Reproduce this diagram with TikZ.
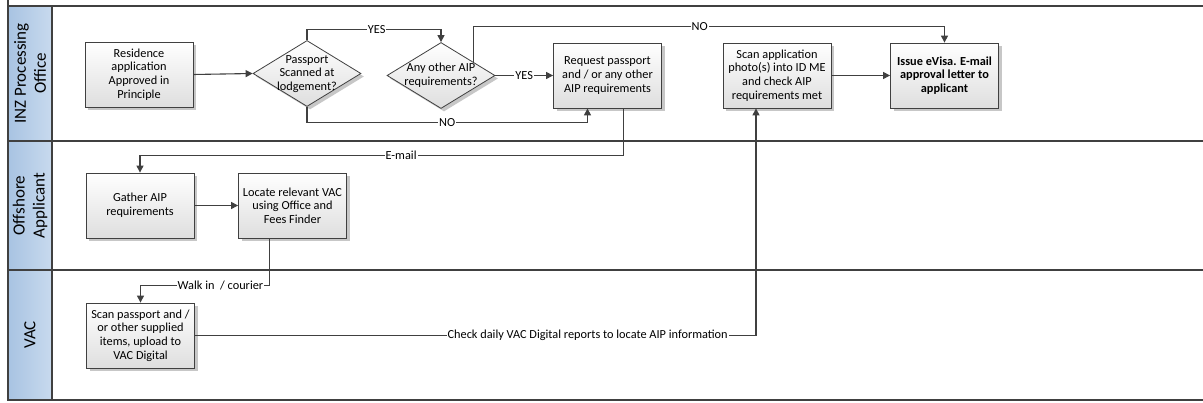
\documentclass[tikz,border=0pt]{standalone}
\usepackage{fontspec}
\setmainfont{Carlito}
\usetikzlibrary{shapes.geometric,arrows.meta,calc,shadows}
\definecolor{ln}{RGB}{64,64,64}
\definecolor{hdA}{RGB}{168,195,226}
\definecolor{hdB}{RGB}{200,218,238}
\definecolor{bxbot}{RGB}{222,222,222}
\tikzset{
  lane/.style={draw=ln, line width=1.4pt},
  hdr/.style={shading=axis, left color=hdA, right color=hdB, draw=ln, line width=1.4pt},
  hdtxt/.style={rotate=90, align=center, font=\fontsize{17}{20}\selectfont, text=black},
  procbox/.style={rectangle, draw=ln, line width=0.8pt, top color=white, bottom color=bxbot,
    minimum width=108pt, minimum height=65pt, align=center,
    inner sep=2pt, font=\fontsize{12.3}{13.6}\selectfont,
    general shadow={fill=black!22, shadow xshift=3pt, shadow yshift=-3pt}},
  decbox/.style={diamond, draw=ln, line width=0.8pt, top color=white, bottom color=bxbot,
    minimum width=108pt, minimum height=66pt, inner sep=0pt,
    general shadow={fill=black!22, shadow xshift=3pt, shadow yshift=-3pt}},
  dectxt/.style={align=center, font=\fontsize{12.3}{13.6}\selectfont},
  arr/.style={draw=ln, line width=1.1pt, -{Triangle[length=7pt,width=7pt]}},
  elab/.style={fill=white, inner sep=1pt, font=\fontsize{12.3}{14}\selectfont, text=black},
}
\begin{document}
\begin{tikzpicture}[x=1pt,y=-1pt]
\useasboundingbox (0,0) rectangle (1203,403);
% lanes
\fill[white] (8,6) rectangle (1203,400);
\path[hdr] (8,6) rectangle (52,141);
\path[hdr] (8,141) rectangle (52,270);
\path[hdr] (8,270) rectangle (52,400);
\draw[lane] (8,0) -- (8,400);
\draw[lane] (8,6) -- (1203,6);
\draw[lane] (8,141) -- (1203,141);
\draw[lane] (8,270) -- (1203,270);
\draw[lane] (8,400) -- (1203,400);
\node[hdtxt] (h1) at (30,73.5) {INZ Processing\\Office};
\node[hdtxt] (h2) at (30,205.5) {Offshore\\Applicant};
\node[hdtxt] (h3) at (30,335) {VAC};

% nodes
\node[procbox] (res) at (139,74.5) {Residence\\application\\Approved in\\Principle};
\node[decbox] (d1) at (307,73.5) {};
\node[dectxt] (d1t) at (307,74) {Passport\\Scanned at\\lodgement?};
\node[decbox] (d2) at (441,75.5) {};
\node[dectxt] (d2t) at (441,75.5) {Any other AIP\\requirements?};
\node[procbox] (req) at (607.5,75.5) {Request passport\\and / or any other\\AIP requirements};
\node[procbox] (sca) at (777,75.5) {Scan application\\photo(s) into ID ME\\and check AIP\\requirements met};
\node[procbox, font=\fontsize{12.3}{13.6}\selectfont\bfseries] (iss) at (944.5,75.5) {Issue eVisa. E-mail\\approval letter to\\applicant};
\node[procbox] (gat) at (140,205.5) {Gather AIP\\requirements};
\node[procbox] (loc) at (292.5,205.5) {Locate relevant VAC\\using Office and\\Fees Finder};
\node[procbox] (scp) at (140.5,335.5) {Scan passport and /\\or other supplied\\items, upload to\\VAC Digital};

% connectors
\draw[arr] (res.east) -- (d1.west);
\draw[arr] (d1.north) -- ++(0,-11) -| node[elab, pos=0.26] {YES} (d2.north);
\draw[arr] (d1.south) -- ++(0,16) -| node[elab, pos=0.25] {NO} ([xshift=-20pt]req.south);
\draw[arr] (d2.east) -- node[elab] {YES} (req.west);
\coordinate (d2ne) at ($(d2.north)!0.6!(d2.east)$);
\draw[arr] (d2ne) |- node[elab, pos=0.74] {NO} ([yshift=16pt]iss.north) -- (iss.north);
\draw[arr] ([xshift=16pt]req.south) |- node[elab, pos=0.73] {E-mail} ([yshift=17pt]gat.north) -- (gat.north);
\draw[arr] (gat.east) -- (loc.west);
\draw[arr] ([xshift=-23pt]loc.south) |- node[elab, pos=0.69] {Walk in~ / courier} ([yshift=17pt]scp.north) -- (scp.north);
\draw[arr] (scp.east) -| node[elab, pos=0.35] {Check daily VAC Digital reports to locate AIP information} ([xshift=-21pt]sca.south);
\draw[arr] (sca.east) -- (iss.west);
\end{tikzpicture}
\end{document}
